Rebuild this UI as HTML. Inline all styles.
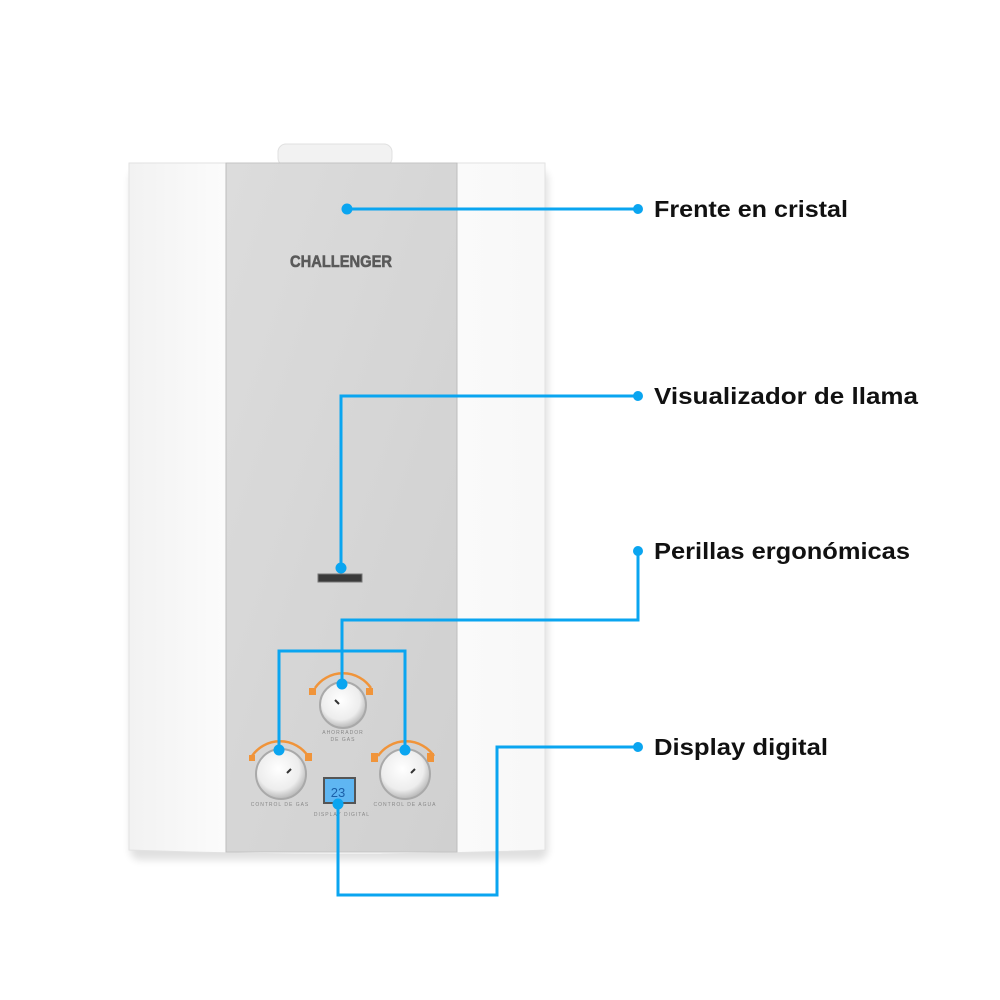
<!DOCTYPE html>
<html><head><meta charset="utf-8"><style>
html,body{margin:0;padding:0;background:#fff;}
svg{display:block;}
</style></head><body>
<svg width="1000" height="1000" viewBox="0 0 1000 1000" xmlns="http://www.w3.org/2000/svg">
<defs>
<linearGradient id="side" x1="0" x2="1" y1="0" y2="0">
<stop offset="0" stop-color="#f2f2f2"/><stop offset="0.3" stop-color="#fefefe"/><stop offset="1" stop-color="#f8f8f8"/>
</linearGradient>
<linearGradient id="panel" x1="0" x2="1" y1="0" y2="1">
<stop offset="0" stop-color="#dcdcdc"/><stop offset="0.5" stop-color="#d6d6d6"/><stop offset="1" stop-color="#d0d0d0"/>
</linearGradient>
<radialGradient id="knob" cx="0.45" cy="0.4" r="0.6">
<stop offset="0" stop-color="#ffffff"/><stop offset="0.7" stop-color="#ededed"/><stop offset="1" stop-color="#b8b8b8"/>
</radialGradient>
<filter id="sh" x="-10%" y="-10%" width="120%" height="120%"><feGaussianBlur stdDeviation="4"/></filter>
</defs>
<rect x="130" y="170" width="418" height="690" rx="10" fill="#000" opacity="0.12" filter="url(#sh)"/>
<rect x="278" y="144" width="114" height="22" rx="8" fill="#f2f2f2" stroke="#e0e0e0"/>
<path d="M129 163 L545 163 L545 850 Q340 858 129 850 Z" fill="url(#side)" stroke="#e2e2e2"/>
<rect x="226" y="163" width="231" height="689" fill="url(#panel)" stroke="#c4c4c4"/>
<line x1="226" y1="163" x2="226" y2="852" stroke="#bdbdbd"/>
<line x1="457" y1="163" x2="457" y2="852" stroke="#bdbdbd"/>
<text x="341" y="267" text-anchor="middle" font-family="Liberation Sans, sans-serif" font-weight="bold" font-size="17" fill="#5a5a5a" stroke="#5a5a5a" stroke-width="0.6" textLength="102" lengthAdjust="spacingAndGlyphs">CHALLENGER</text>
<rect x="318" y="574" width="44" height="8" fill="#3a3a3a" stroke="#777"/>
<g fill="none" stroke="#f0943a" stroke-width="2.5">
<path d="M315 688 A34 34 0 0 1 371 688"/>
<path d="M252 756 A34 34 0 0 1 308 756"/>
<path d="M378 756 A34 34 0 0 1 434 756"/>
</g>
<g fill="#f0943a">
<rect x="309" y="688" width="7" height="7"/><rect x="366" y="688" width="7" height="7"/>
<rect x="249" y="755" width="6" height="6"/><rect x="305" y="753" width="7" height="8"/>
<rect x="371" y="753" width="7" height="9"/><rect x="427" y="753" width="7" height="9"/>
</g>
<circle cx="343" cy="705" r="23" fill="url(#knob)" stroke="#a9a9a9" stroke-width="2"/>
<circle cx="281" cy="774" r="25" fill="url(#knob)" stroke="#a9a9a9" stroke-width="2"/>
<circle cx="405" cy="774" r="25" fill="url(#knob)" stroke="#a9a9a9" stroke-width="2"/>
<g stroke="#333" stroke-width="2"><line x1="335" y1="700" x2="339" y2="704"/><line x1="287" y1="773" x2="291" y2="769"/><line x1="411" y1="773" x2="415" y2="769"/></g>
<g font-family="Liberation Sans, sans-serif" font-size="5" fill="#888" text-anchor="middle" letter-spacing="1">
<text x="343" y="734">AHORRADOR</text><text x="343" y="741">DE GAS</text>
<text x="280" y="806">CONTROL DE GAS</text><text x="405" y="806">CONTROL DE AGUA</text>
<text x="342" y="816">DISPLAY DIGITAL</text>
</g>
<rect x="323" y="777" width="33" height="27" fill="#555"/>
<rect x="325" y="779" width="29" height="23" fill="#5fb6f2"/>
<text x="338" y="797" text-anchor="middle" font-family="Liberation Sans, sans-serif" font-size="13" fill="#1b5fa8">23</text>
<g fill="none" stroke="#0aa5f0" stroke-width="3">
<line x1="347" y1="209" x2="638" y2="209"/>
<polyline points="638,396 341,396 341,565"/>
<polyline points="638,551 638,620 342,620 342,684"/>
<polyline points="279,750 279,651 405,651 405,750"/>
<polyline points="638,747 497,747 497,895 338,895 338,803"/>
</g>
<g fill="#0aa5f0">
<circle cx="347" cy="209" r="5.5"/><circle cx="638" cy="209" r="5"/>
<circle cx="638" cy="396" r="5"/><circle cx="341" cy="568" r="5.5"/>
<circle cx="638" cy="551" r="5"/><circle cx="342" cy="684" r="5.5"/>
<circle cx="279" cy="750" r="5.5"/><circle cx="405" cy="750" r="5.5"/>
<circle cx="638" cy="747" r="5"/><circle cx="338" cy="804" r="5.5"/>
</g>
<g font-family="Liberation Sans, sans-serif" font-weight="bold" font-size="23" fill="#111">
<text x="654" y="217" textLength="194" lengthAdjust="spacingAndGlyphs">Frente en cristal</text>
<text x="654" y="404" textLength="264" lengthAdjust="spacingAndGlyphs">Visualizador de llama</text>
<text x="654" y="559" textLength="256" lengthAdjust="spacingAndGlyphs">Perillas ergonómicas</text>
<text x="654" y="755" textLength="174" lengthAdjust="spacingAndGlyphs">Display digital</text>
</g>
</svg>
</body></html>
